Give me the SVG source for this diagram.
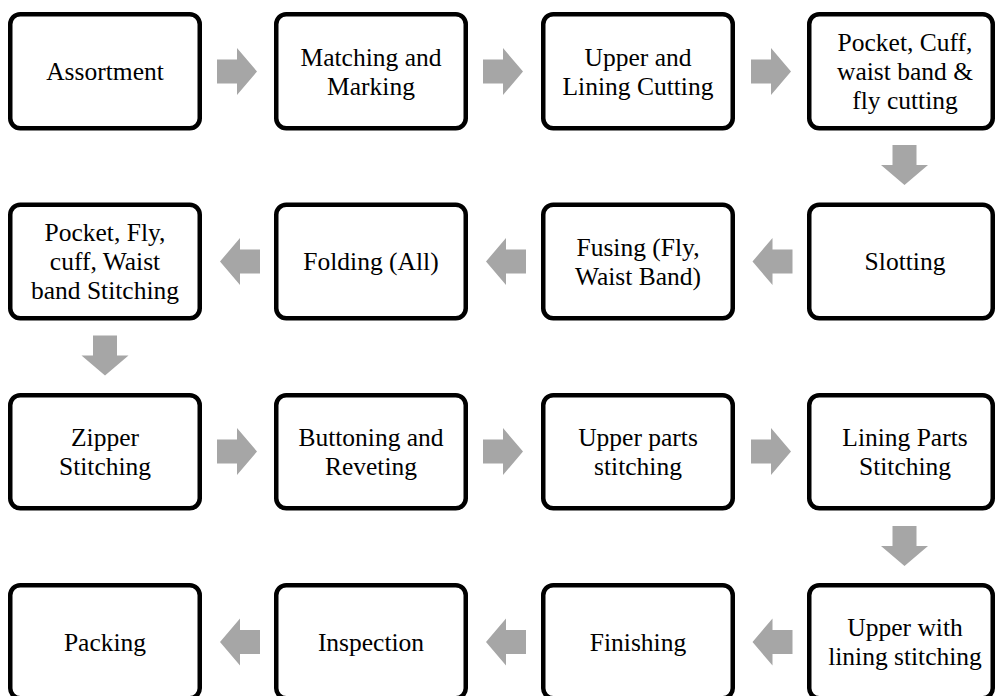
<svg xmlns="http://www.w3.org/2000/svg" xmlns:xlink="http://www.w3.org/1999/xlink" width="995" height="696" viewBox="0 0 995 696">
<style>
.box{fill:#fff;stroke:#000;stroke-width:4.5}
.t{font-family:"Liberation Serif","Times New Roman",serif;font-size:25.5px;fill:#000;text-anchor:middle}
.arr{fill:#A6A6A6}
</style>
<defs>
<path id="a" d="M-20,-12 H0 V-23.5 L20,0 L0,23.5 V12 H-20 Z"/>
</defs>
<rect width="995" height="696" fill="#fff"/>
<g id="connectors" class="arr">
<use xlink:href="#a" transform="translate(237,71.5)"/>
<use xlink:href="#a" transform="translate(503,71.5)"/>
<use xlink:href="#a" transform="translate(771,71.5)"/>
<use xlink:href="#a" transform="translate(904.5,165) rotate(90)"/>
<use xlink:href="#a" transform="translate(772.5,261.5) rotate(180)"/>
<use xlink:href="#a" transform="translate(506,261.5) rotate(180)"/>
<use xlink:href="#a" transform="translate(240,261.5) rotate(180)"/>
<use xlink:href="#a" transform="translate(105,355.5) rotate(90)"/>
<use xlink:href="#a" transform="translate(237,451.5)"/>
<use xlink:href="#a" transform="translate(503,451.5)"/>
<use xlink:href="#a" transform="translate(771,451.5)"/>
<use xlink:href="#a" transform="translate(904.5,546) rotate(90)"/>
<use xlink:href="#a" transform="translate(772.5,642) rotate(180)"/>
<use xlink:href="#a" transform="translate(506,642) rotate(180)"/>
<use xlink:href="#a" transform="translate(240,642) rotate(180)"/>
</g>
<g id="n1"><rect class="box" x="10.25" y="14.25" width="189.5" height="114" rx="10"/><text class="t" x="105" y="80">Assortment</text></g>
<g id="n2"><rect class="box" x="276.25" y="14.25" width="189.5" height="114" rx="10"/><text class="t" x="371" y="65.5">Matching and</text><text class="t" x="371" y="94.5">Marking</text></g>
<g id="n3"><rect class="box" x="543.25" y="14.25" width="189.5" height="114" rx="10"/><text class="t" x="638" y="65.5">Upper and</text><text class="t" x="638" y="94.5">Lining Cutting</text></g>
<g id="n4"><rect class="box" x="809.25" y="14.25" width="183.5" height="114" rx="10"/><text class="t" x="905" y="51">Pocket, Cuff,</text><text class="t" x="905" y="80">waist band &amp;</text><text class="t" x="905" y="109">fly cutting</text></g>
<g id="n5"><rect class="box" x="809.25" y="204.75" width="183.5" height="113.5" rx="10"/><text class="t" x="905" y="270">Slotting</text></g>
<g id="n6"><rect class="box" x="543.25" y="204.75" width="189.5" height="113.5" rx="10"/><text class="t" x="638" y="255.5">Fusing (Fly,</text><text class="t" x="638" y="284.5">Waist Band)</text></g>
<g id="n7"><rect class="box" x="276.25" y="204.75" width="189.5" height="113.5" rx="10"/><text class="t" x="371" y="270">Folding (All)</text></g>
<g id="n8"><rect class="box" x="10.25" y="204.75" width="189.5" height="113.5" rx="10"/><text class="t" x="105" y="241">Pocket, Fly,</text><text class="t" x="105" y="270">cuff, Waist</text><text class="t" x="105" y="299">band Stitching</text></g>
<g id="n9"><rect class="box" x="10.25" y="395.25" width="189.5" height="113" rx="10"/><text class="t" x="105" y="445.5">Zipper</text><text class="t" x="105" y="474.5">Stitching</text></g>
<g id="n10"><rect class="box" x="276.25" y="395.25" width="189.5" height="113" rx="10"/><text class="t" x="371" y="445.5">Buttoning and</text><text class="t" x="371" y="474.5">Reveting</text></g>
<g id="n11"><rect class="box" x="543.25" y="395.25" width="189.5" height="113" rx="10"/><text class="t" x="638" y="445.5">Upper parts</text><text class="t" x="638" y="474.5">stitching</text></g>
<g id="n12"><rect class="box" x="809.25" y="395.25" width="183.5" height="113" rx="10"/><text class="t" x="905" y="445.5">Lining Parts</text><text class="t" x="905" y="474.5">Stitching</text></g>
<g id="n13"><rect class="box" x="809.25" y="585.25" width="183.5" height="113" rx="10"/><text class="t" x="905" y="636">Upper with</text><text class="t" x="905" y="665">lining stitching</text></g>
<g id="n14"><rect class="box" x="543.25" y="585.25" width="189.5" height="113" rx="10"/><text class="t" x="638" y="651">Finishing</text></g>
<g id="n15"><rect class="box" x="276.25" y="585.25" width="189.5" height="113" rx="10"/><text class="t" x="371" y="651">Inspection</text></g>
<g id="n16"><rect class="box" x="10.25" y="585.25" width="189.5" height="113" rx="10"/><text class="t" x="105" y="651">Packing</text></g>
</svg>
